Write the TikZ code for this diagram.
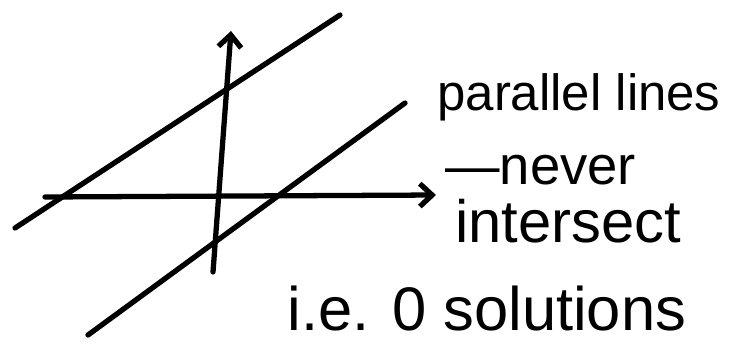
\documentclass[tikz,border=0pt]{standalone}
\usepackage{fontspec}
\setmainfont{Liberation Sans}
\usetikzlibrary{arrows.meta}
\begin{document}
\begin{tikzpicture}[x=0.02cm, y=-0.02cm,
		pen/.style={line width=3pt, line cap=round, line join=round},
		axis/.style={pen, -{Straight Barb[length=7pt, width=13pt, line width=3pt]}},
		note/.style={anchor=base west, inner sep=0pt, font=\fontsize{31}{36}\selectfont}]

	\useasboundingbox (0,0) rectangle (736,349);

	% ===== osie =====
	\coordinate (xl) at (45,197);
	\coordinate (xr) at (436,195);
	\coordinate (yb) at (213,272);
	\coordinate (yt) at (231,31);
	\draw[axis] (xl) -- (xr);
	\draw[axis] (yb) -- (yt);

	% ===== proste równoległe =====
	\coordinate (a1) at (15,228);
	\coordinate (a2) at (340,15);
	\coordinate (b1) at (88,335);
	\coordinate (b2) at (405,103);
	\draw[pen] (a1) -- (a2);
	\draw[pen] (b1) -- (b2);

	% ===== opis =====
	\node[note, font=\fontsize{29}{34}\selectfont] (t1) at (437,110) {parallel lines};
	\node[note] (t2) at (445,184) {—never};
	\node[note, font=\fontsize{34}{40}\selectfont] (t3) at (455,242) {intersect};
	\node[note, font=\fontsize{35}{40}\selectfont] (t4) at (287,330) {i.e. 0 solutions};
\end{tikzpicture}
\end{document}
